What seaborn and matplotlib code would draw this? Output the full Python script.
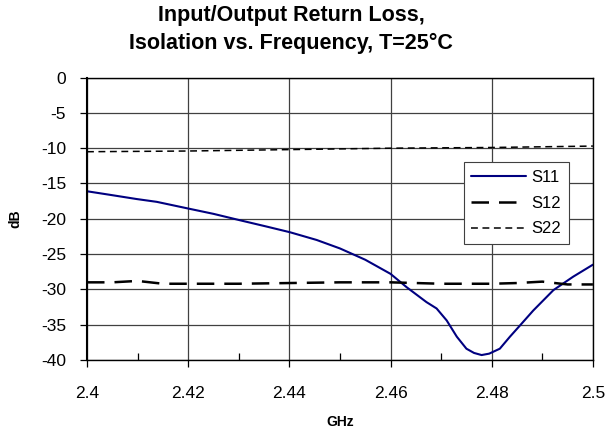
import numpy as np
import pandas as pd
import matplotlib
matplotlib.use("Agg")
import matplotlib.pyplot as plt
import seaborn as sns

# Data S-parameter (dB) vs frekuensi (GHz)
freq_s11 = [2.4000, 2.4045, 2.4098, 2.4138, 2.4197, 2.4250, 2.4302, 2.4355, 2.4401,
            2.4454, 2.4500, 2.4550, 2.4600, 2.4632, 2.4671, 2.4691, 2.4711, 2.4731,
            2.4750, 2.4765, 2.4780, 2.4795, 2.4816, 2.4836, 2.4856, 2.4882, 2.4922,
            2.4961, 2.5000]
s11 = [-16.1, -16.6, -17.2, -17.6, -18.5, -19.3, -20.2, -21.1, -21.9,
       -23.0, -24.2, -25.8, -27.8, -29.7, -31.8, -32.7, -34.4, -36.7,
       -38.4, -39.0, -39.3, -39.1, -38.4, -36.7, -35.1, -33.0, -30.1,
       -28.2, -26.5]

freq_s12 = [2.400, 2.405, 2.410, 2.415, 2.420, 2.430, 2.440, 2.450, 2.460,
            2.470, 2.480, 2.485, 2.490, 2.495, 2.500]
s12 = [-29.0, -29.0, -28.8, -29.2, -29.2, -29.2, -29.1, -29.0, -29.0,
       -29.2, -29.2, -29.1, -28.9, -29.3, -29.3]

freq_s22 = [2.400, 2.420, 2.440, 2.460, 2.480, 2.500]
s22 = [-10.5, -10.4, -10.2, -10.0, -9.9, -9.7]

sns.set_style("white")
plt.rcParams['font.family'] = ['Liberation Sans', 'DejaVu Sans']
plt.rcParams['axes.unicode_minus'] = False
plt.rcParams['text.color'] = 'black'
plt.rcParams['xtick.color'] = 'black'
plt.rcParams['ytick.color'] = 'black'
plt.rcParams['axes.labelcolor'] = 'black'

fig = plt.figure(figsize=(6.05, 4.33), dpi=100)
ax = fig.add_axes([0.1438, 0.1686, 0.8362, 0.6522])

sns.lineplot(x=freq_s11, y=s11, ax=ax, color='#000080', lw=1.5, label='S11')
sns.lineplot(x=freq_s12, y=s12, ax=ax, color='black', lw=1.8, label='S12')
ax.lines[-1].set_dashes([7, 4])
sns.lineplot(x=freq_s22, y=s22, ax=ax, color='black', lw=1.1, label='S22')
ax.lines[-1].set_dashes([4.5, 3])

ax.set_xlim(2.4, 2.5)
ax.set_ylim(-40, 0)
ax.set_xticks([2.4, 2.42, 2.44, 2.46, 2.48, 2.5])
ax.set_xticklabels(['2.4', '2.42', '2.44', '2.46', '2.48', '2.5'])
ax.set_xticks(np.arange(2.41, 2.5, 0.02), minor=True)
ax.set_yticks(np.arange(-40, 1, 5))
ax.grid(True, which='major', color='#404040', lw=0.9)
ax.tick_params(axis='x', which='minor', direction='in', length=5, width=0.9, bottom=True)
ax.tick_params(axis='x', which='major', direction='out', length=5, width=0.9,
               bottom=True, pad=14)
ax.tick_params(axis='y', which='major', direction='out', length=5, width=0.9,
               left=True, pad=10)
ax.tick_params(labelsize=12.5)
for s in ax.spines.values():
    s.set_color('black')
    s.set_linewidth(1.0)
ax.spines['left'].set_linewidth(1.5)

ax.set_xlabel('GHz', fontsize=10, fontweight='bold', labelpad=10)
ax.set_ylabel('dB', fontsize=10, fontweight='bold', labelpad=13)
fig.suptitle('Input/Output Return Loss,\nIsolation vs. Frequency, T=25\u00b0C',
             x=0.481, y=0.988, va='top', fontsize=15.5, fontweight='bold',
             linespacing=1.4)

leg = ax.legend(loc='upper left', bbox_to_anchor=(0.745, 0.70), fontsize=12,
                frameon=True, fancybox=False, handlelength=3.3, handletextpad=0.3,
                borderpad=0.45, labelspacing=0.65, borderaxespad=0)
leg.get_frame().set_edgecolor('#404040')
leg.get_frame().set_linewidth(0.8)
leg.get_frame().set_alpha(1)

fig.savefig('out.png', dpi=100)
